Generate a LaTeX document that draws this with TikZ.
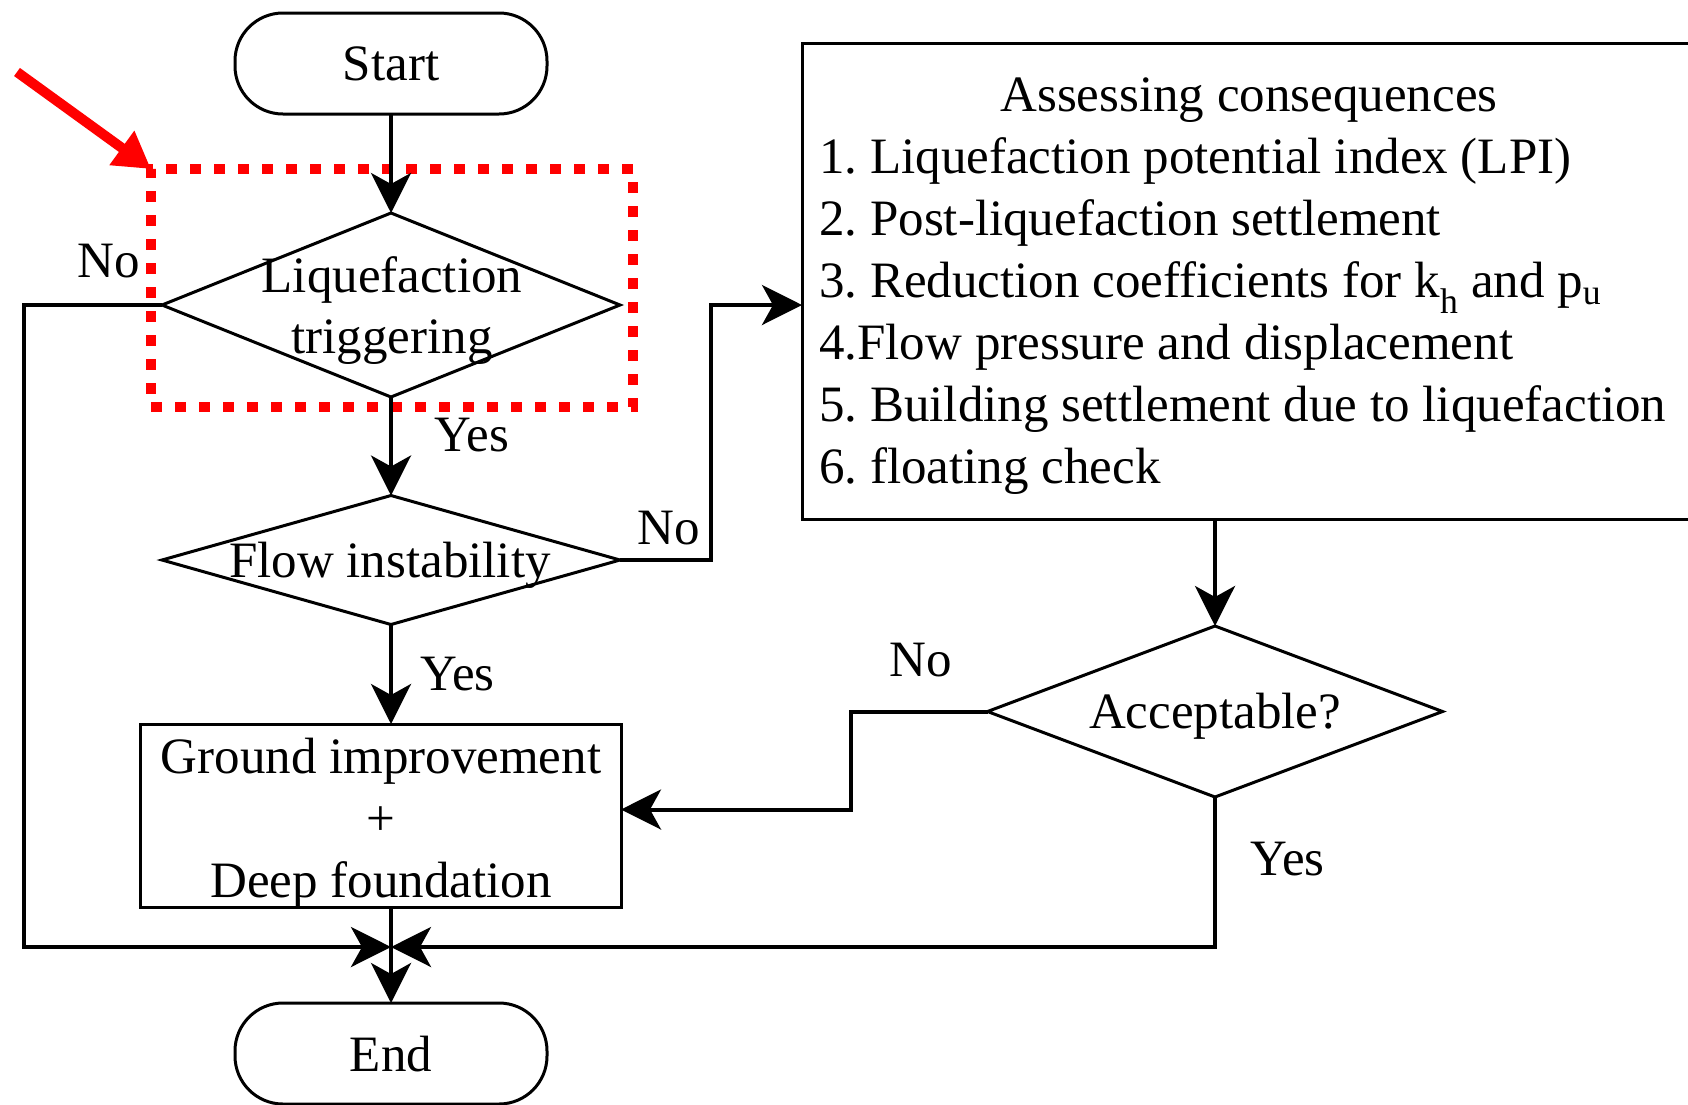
\documentclass[tikz,border=0pt]{standalone}
\usepackage{fontspec}
\setmainfont{Liberation Serif}
\usetikzlibrary{arrows.meta,shapes.geometric}
\frenchspacing
\begin{document}
\begin{tikzpicture}[x=1pt,y=-1pt,
  every node/.style={font=\fontsize{51}{62}\selectfont},
  ln/.style={line width=3pt},
  arr/.style={line width=4pt,-{Stealth[length=40pt,width=40pt,inset=11pt]}},
  term/.style={draw,ln,rectangle,rounded corners=48pt,minimum width=312pt,
    minimum height=101pt,inner sep=0pt,outer sep=0pt},
  dec/.style={draw,ln,diamond,inner sep=0pt,outer sep=0pt},
  proc/.style={draw,ln,rectangle,inner sep=0pt,outer sep=0pt},
  txt/.style={inner sep=0pt,anchor=base},
  itemtxt/.style={inner sep=0pt,anchor=base west},
  focusbox/.style={draw=red,line width=10pt,dash pattern=on 11pt off 13pt,
    rectangle,inner sep=0pt,outer sep=0pt},
  hintarrow/.style={draw=red,line width=10pt,-{Triangle[length=36pt,width=40pt]}}
]
\useasboundingbox (0,0) rectangle (1688,1104);

% terminals
\node[term] (start) at (391,63.5) {};
\node[txt] (startT) at (391,80) {Start};
\node[term] (end) at (391,1053.5) {};
\node[txt] (endT) at (391,1071) {End};

% decisions
\node[dec,minimum width=458pt,minimum height=184pt] (trig) at (391,305) {};
\node[txt] (trigA) at (392,292) {Liquefaction};
\node[txt] (trigB) at (392,353) {triggering};

\node[dec,minimum width=458pt,minimum height=129pt] (flow) at (391,560) {};
\node[txt] (flowT) at (390,577) {Flow instability};

\node[dec,minimum width=455pt,minimum height=171pt] (acc) at (1215,711.5) {};
\node[txt] (accT) at (1215,728) {Acceptable?};

% processes
\node[proc,minimum width=481pt,minimum height=183pt] (ground) at (380.5,815.5) {};
\node[txt] (groundA) at (381,773) {Ground improvement};
\node[txt] (groundB) at (381,835) {+};
\node[txt] (groundC) at (381,897) {Deep foundation};

\node[proc,anchor=north west,minimum width=900pt,minimum height=476pt] (assess) at (802,43) {};
\node[txt] (assessT) at (1249,111) {Assessing consequences};
\node[itemtxt] (item1) at (819,173) {1. Liquefaction potential index (LPI)};
\node[itemtxt] (item2) at (819,235) {2. Post-liquefaction settlement};
\node[itemtxt] (item3) at (819,297) {3. Reduction coefficients for k\textsubscript{h} and p\textsubscript{u}};
\node[itemtxt] (item4) at (819,359) {4.Flow pressure and displacement};
\node[itemtxt] (item5) at (819,421) {5. Building settlement due to liquefaction};
\node[itemtxt] (item6) at (819,483) {6. floating check};

% highlight around the triggering check
\node[focusbox,minimum width=482pt,minimum height=238pt] (focus) at (392,288) {};
\coordinate (hint) at (17,72);
\draw[hintarrow] (hint) -- (focus.north west);

% branch labels
\node[txt] (noA) at (109,277) {No};
\node[txt] (yesA) at (472,451) {Yes};
\node[txt] (noB) at (668.5,544) {No};
\node[txt] (yesB) at (457.5,690) {Yes};
\node[txt] (noC) at (920.5,676) {No};
\node[txt] (yesC) at (1287.5,875) {Yes};

% connectors
\coordinate (join) at (391,947);
\coordinate (lcorner) at (24,947);
\draw[arr] (start.south) -- (trig.north);
\draw[arr] (trig.south) -- (flow.north);
\draw[arr] (flow.south) -- (flow.south |- ground.north);
\draw[arr] (trig.west) -| (lcorner) -- (join);
\draw[arr] (flow.east) -- ++(91,0) |- (trig.center -| assess.west);
\draw[arr] (acc.north |- assess.south) -- (acc.north);
\draw[arr] (acc.west) -- ++(-137,0) |- ([yshift=6pt]ground.east);
\draw[arr] (acc.south) |- (join);
\draw[arr] (ground.south -| start.south) -- (end.north);
\end{tikzpicture}
\end{document}
